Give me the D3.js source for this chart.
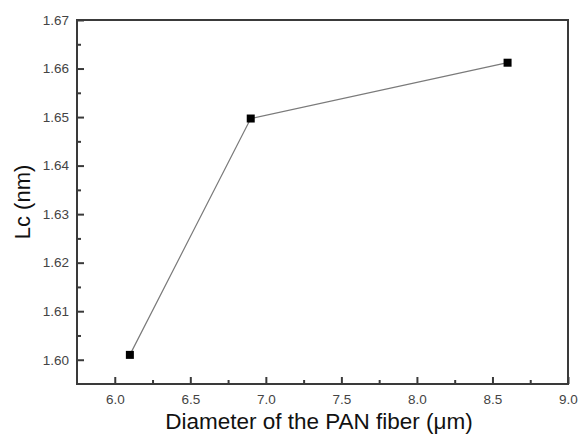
<!DOCTYPE html>
<html>
<head>
<meta charset="utf-8">
<script src="https://cdn.jsdelivr.net/npm/d3@7"></script>
<style>
  html, body { margin: 0; padding: 0; background: #fff; }
  svg { display: block; }
  text { font-family: Arial, "Liberation Sans", Helvetica, sans-serif; }
</style>
</head>
<body>
<svg id="chart" width="580" height="435"></svg>
<script>
const diameters = [6.1, 6.9, 8.6];
const lcValues = [1.601, 1.6497, 1.6612];
const xTicks = [6.0, 6.5, 7.0, 7.5, 8.0, 8.5, 9.0];
const yTicks = [1.60, 1.61, 1.62, 1.63, 1.64, 1.65, 1.66, 1.67];
const xLabel = "Diameter of the PAN fiber (\u03BCm)";
const yLabel = "Lc (nm)";

const svg = d3.select("#chart");
const mLeft = 77, mRight = 568, mTop = 20, mBottom = 384;

const x = d3.scaleLinear().domain([5.75, 9.0]).range([mLeft, mRight]);
const y = d3.scaleLinear().domain([1.595, 1.67]).range([mBottom, mTop]);

const axisColor = "#3a3a3a";
const labelColor = "#444";

const xMinor = d3.range(5.75, 9.0001, 0.25).filter(v => !xTicks.some(t => Math.abs(t - v) < 1e-6) && v > 5.76 && v < 8.99);
const yMinor = d3.range(1.595, 1.6701, 0.005).filter(v => !yTicks.some(t => Math.abs(t - v) < 1e-6) && v > 1.5951 && v < 1.6699);

const g = svg.append("g");

const xAxis = d3.axisBottom(x).tickValues(xTicks).tickFormat(d3.format(".1f")).tickSizeInner(-7).tickSizeOuter(0).tickPadding(10);
const gx = g.append("g").attr("transform", `translate(0,${mBottom})`).call(xAxis);
gx.selectAll("line").attr("stroke", axisColor).attr("stroke-width", 2);
gx.select(".domain").remove();
gx.selectAll("text").attr("fill", labelColor).style("font-size", "13.5px").style("font-family", "Arial, 'Liberation Sans', sans-serif");

const xAxisMinor = d3.axisBottom(x).tickValues(xMinor).tickFormat("").tickSizeInner(-4).tickSizeOuter(0);
const gxm = g.append("g").attr("transform", `translate(0,${mBottom})`).call(xAxisMinor);
gxm.selectAll("line").attr("stroke", axisColor).attr("stroke-width", 2);
gxm.select(".domain").remove();

const yAxis = d3.axisLeft(y).tickValues(yTicks).tickFormat(d3.format(".2f")).tickSizeInner(-7).tickSizeOuter(0).tickPadding(8);
const gy = g.append("g").attr("transform", `translate(${mLeft},0)`).call(yAxis);
gy.selectAll("line").attr("stroke", axisColor).attr("stroke-width", 2);
gy.select(".domain").remove();
gy.selectAll("text").attr("fill", labelColor).style("font-size", "13.5px").style("font-family", "Arial, 'Liberation Sans', sans-serif");

const yAxisMinor = d3.axisLeft(y).tickValues(yMinor).tickFormat("").tickSizeInner(-4).tickSizeOuter(0);
const gym = g.append("g").attr("transform", `translate(${mLeft},0)`).call(yAxisMinor);
gym.selectAll("line").attr("stroke", axisColor).attr("stroke-width", 2);
gym.select(".domain").remove();

g.append("rect")
  .attr("x", mLeft).attr("y", mTop)
  .attr("width", mRight - mLeft).attr("height", mBottom - mTop)
  .attr("fill", "none").attr("stroke", axisColor).attr("stroke-width", 2);

const pts = diameters.map((d, i) => [d, lcValues[i]]);
g.append("path")
  .datum(pts)
  .attr("fill", "none")
  .attr("stroke", "#7a7a7a")
  .attr("stroke-width", 1.2)
  .attr("d", d3.line().x(d => x(d[0])).y(d => y(d[1])));

const ms = 8;
g.selectAll("rect.pt")
  .data(pts)
  .enter().append("rect")
  .attr("class", "pt")
  .attr("x", d => x(d[0]) - ms / 2)
  .attr("y", d => y(d[1]) - ms / 2)
  .attr("width", ms).attr("height", ms)
  .attr("fill", "#000");

svg.append("text")
  .attr("x", 319)
  .attr("y", 429)
  .attr("text-anchor", "middle")
  .attr("fill", "#111")
  .style("font-size", "22.5px")
  .text(xLabel);

svg.append("text")
  .attr("transform", `translate(30,${(mTop + mBottom) / 2}) rotate(-90)`)
  .attr("text-anchor", "middle")
  .attr("fill", "#111")
  .style("font-size", "22px")
  .text(yLabel);
</script>
</body>
</html>
